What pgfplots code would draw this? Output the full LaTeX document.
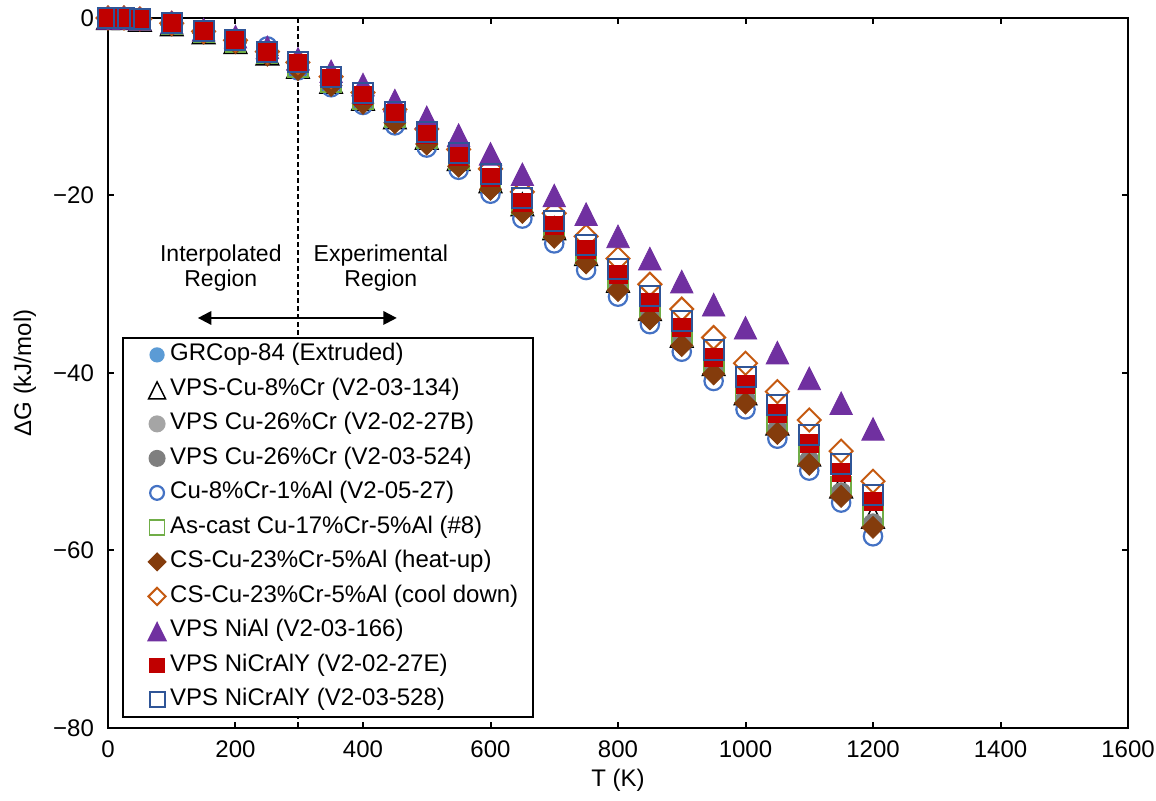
\documentclass[border=0pt]{standalone}
\usepackage{fontspec}
\setmainfont{Liberation Sans}
\usepackage{pgfplots}
\usepackage{pgfplotstable}
\pgfplotsset{compat=1.18}
\usetikzlibrary{arrows.meta}

\definecolor{cgrcop}{HTML}{5B9BD5}
\definecolor{cgraya}{HTML}{A5A5A5}
\definecolor{cgrayb}{HTML}{7F7F7F}
\definecolor{cbluec}{HTML}{4472C4}
\definecolor{cgreen}{HTML}{70AD47}
\definecolor{cbrown}{HTML}{843C0C}
\definecolor{corange}{HTML}{C55A11}
\definecolor{cpurple}{HTML}{7030A0}
\definecolor{cred}{HTML}{C00000}
\definecolor{cnavy}{HTML}{2F5597}

% Delta G (kJ/mol) vs T (K)
\pgfplotstableread{
T    GR    K     GA    GB    C     GN    BR    OR    P     R     B
0    0     0     0     0     0     0     0     0     0     0     0
25   0     0     0     0     0     0     0     0     0     0     0
50   -0.1  -0.2  -0.2  -0.2  -0.1  -0.2  -0.2  -0.1  -0.1  -0.1  -0.1
100  -0.6  -0.7  -0.7  -0.7  -0.6  -0.7  -0.8  -0.6  -0.5  -0.6  -0.6
150  -1.5  -1.6  -1.6  -1.6  -1.5  -1.6  -1.7  -1.5  -1.3  -1.5  -1.5
200  -2.5  -2.7  -2.7  -2.7  -2.6  -2.7  -2.8  -2.5  -2.1  -2.5  -2.5
250  -3.8  -4.0  -4.0  -4.0  -3.2  -4.0  -4.2  -3.8  -3.3  -3.8  -3.8
298  -5.1  -5.5  -5.6  -5.6  -5.9  -5.5  -5.8  -5.0  -4.6  -5.1  -5.0
350  -6.8  -7.2  -7.3  -7.3  -7.8  -7.2  -7.6  -6.6  -6.0  -6.8  -6.7
400  -8.7  -9.1  -9.3  -9.3  -9.8  -9.1  -9.6  -8.4  -7.5  -8.7  -8.5
450  -10.8 -11.2 -11.4 -11.4 -12.1 -11.2 -11.8 -10.3 -9.3  -10.8 -10.6
500  -13.1 -13.5 -13.8 -13.8 -14.6 -13.5 -14.2 -12.5 -11.2 -13.1 -12.8
550  -15.6 -15.9 -16.3 -16.3 -17.1 -15.9 -16.7 -14.8 -13.2 -15.6 -15.2
600  -18.0 -18.4 -18.9 -18.9 -19.8 -18.4 -19.3 -17.0 -15.3 -18.0 -17.6
650  -20.8 -21.0 -21.5 -21.5 -22.6 -21.0 -21.9 -19.6 -17.6 -20.8 -20.3
700  -23.4 -23.7 -24.3 -24.3 -25.4 -23.7 -24.7 -22.0 -20.0 -23.4 -22.9
750  -26.1 -26.6 -27.2 -27.2 -28.4 -26.6 -27.6 -24.6 -22.1 -26.1 -25.6
800  -28.9 -29.6 -30.3 -30.3 -31.4 -29.6 -30.7 -27.1 -24.6 -28.9 -28.3
850  -32.0 -32.8 -33.5 -33.5 -34.5 -32.8 -33.9 -30.0 -27.1 -32.0 -31.3
900  -34.9 -35.8 -36.5 -36.5 -37.6 -35.8 -36.9 -32.8 -29.7 -34.9 -34.1
950  -38.2 -39.0 -39.7 -39.7 -40.9 -39.0 -40.1 -36.0 -32.3 -38.2 -37.4
1000 -41.3 -42.3 -43.0 -43.0 -44.1 -42.3 -43.4 -38.9 -34.9 -41.3 -40.5
1050 -44.5 -45.7 -46.4 -46.4 -47.4 -45.7 -46.8 -42.1 -37.7 -44.5 -43.6
1100 -47.9 -49.2 -49.9 -49.9 -51.0 -49.2 -50.3 -45.3 -40.6 -47.9 -47.0
1150 -51.2 -52.8 -53.5 -53.5 -54.6 -52.8 -53.9 -48.8 -43.4 -51.2 -50.3
1200 -54.5 -56.2 -57.0 -57.0 -58.4 -56.2 -57.4 -52.2 -46.3 -54.5 -53.8
}\dgtable

\begin{document}
\begin{tikzpicture}
\begin{axis}[
  scale only axis, width=510pt, height=355pt,
  xmin=0, xmax=1600, ymin=-80, ymax=0,
  xtick={0,200,...,1600},
  ytick={-80,-60,-40,-20,0},
  yticklabels={−80,−60,−40,−20,0},
  tick align=inside, major tick length=3pt,
  axis line style={line width=1pt},
  every tick/.style={black,line width=1pt},
  tick label style={font=\fontsize{12}{14}\selectfont},
  xticklabel style={yshift=-3pt},
  yticklabel style={xshift=-3.5pt},
  scaled ticks=false,
  /pgf/number format/assume math mode=true,
  /pgf/number format/set thousands separator={},
  xlabel={T (K)}, ylabel={ΔG (kJ/mol)},
  every axis x label/.style={at={(axis description cs:0.5,-0.0732)},anchor=center,
    font=\fontsize{12}{14}\selectfont},
  every axis y label/.style={at={(axis description cs:-0.0814,0.5)},rotate=90,anchor=center,
    font=\fontsize{12}{14}\selectfont},
  clip=false,
  legend cell align=left,
  legend image code/.code={%
    \path (-9pt,-4pt) (4pt,4pt);
    \draw[#1,/tikz/every mark/.append style={scale=0.75}] plot coordinates {(0pt,0pt)};},
  legend style={at={(rel axis cs:0.0137,0.551)}, anchor=north west,
    draw=black, line width=1pt, inner xsep=7.5pt, inner ysep=3pt,
    row sep=6.15pt,
    nodes={inner sep=0pt, text height=8.6pt, text depth=2.5pt,
      font=\fontsize{12}{14}\selectfont},
    /tikz/every odd column/.append style={column sep=2pt}},
]
\coordinate (bl) at (rel axis cs:0,0);
\coordinate (tr) at (rel axis cs:1,1);

\draw[black, line width=0.75pt, dash pattern=on 2.5pt off 1.5pt]
  (axis cs:298,0) -- (axis cs:298,-80);

\addplot[only marks, mark=*, mark size=4.4pt, draw=cgrcop, fill=cgrcop]
  table[x=T,y=GR]{\dgtable};
\addlegendentry{GRCop-84 (Extruded)}
\addplot[only marks, mark=triangle, mark size=6.5pt, line width=0.75pt, draw=black,
  mark options={yshift=-1.9pt,yscale=1.16}]
  table[x=T,y=K]{\dgtable};
\addlegendentry{VPS-Cu-8\%Cr (V2-03-134)}
\addplot[only marks, mark=*, mark size=5pt, draw=cgraya, fill=cgraya]
  table[x=T,y=GA]{\dgtable};
\addlegendentry{VPS Cu-26\%Cr (V2-02-27B)}
\addplot[only marks, mark=*, mark size=5pt, draw=cgrayb, fill=cgrayb]
  table[x=T,y=GB]{\dgtable};
\addlegendentry{VPS Cu-26\%Cr (V2-03-524)}
\addplot[only marks, mark=o, mark size=4.6pt, line width=1.1pt, draw=cbluec]
  table[x=T,y=C]{\dgtable};
\addlegendentry{Cu-8\%Cr-1\%Al (V2-05-27)}
\addplot[only marks, mark=square, mark size=5pt, line width=0.9pt, draw=cgreen]
  table[x=T,y=GN]{\dgtable};
\addlegendentry{As-cast Cu-17\%Cr-5\%Al (\#8)}
\addplot[only marks, mark=diamond*, mark size=5.5pt, draw=cbrown, fill=cbrown,
  mark options={xscale=1.33}]
  table[x=T,y=BR]{\dgtable};
\addlegendentry{CS-Cu-23\%Cr-5\%Al (heat-up)}
\addplot[only marks, mark=diamond, mark size=5.75pt, line width=1pt, draw=corange,
  mark options={xscale=1.33}]
  table[x=T,y=OR]{\dgtable};
\addlegendentry{CS-Cu-23\%Cr-5\%Al (cool down)}
\addplot[only marks, mark=triangle*, mark size=6.5pt, draw=cpurple, fill=cpurple,
  mark options={yshift=-1.9pt,yscale=1.16}]
  table[x=T,y=P]{\dgtable};
\addlegendentry{VPS NiAl (V2-03-166)}
\addplot[only marks, mark=square*, mark size=4.5pt, draw=cred, fill=cred]
  table[x=T,y=R]{\dgtable};
\addlegendentry{VPS NiCrAlY (V2-02-27E)}
\addplot[only marks, mark=square, mark size=5pt, line width=1pt, draw=cnavy]
  table[x=T,y=B]{\dgtable};
\addlegendentry{VPS NiCrAlY (V2-03-528)}

\node[anchor=base, font=\fontsize{11.5}{13}\selectfont] at (axis cs:177,-27.46) {Interpolated};
\node[anchor=base, font=\fontsize{11.5}{13}\selectfont] at (axis cs:177,-30.28) {Region};
\node[anchor=base, font=\fontsize{11.5}{13}\selectfont] at (axis cs:428,-27.46) {Experimental};
\node[anchor=base, font=\fontsize{11.5}{13}\selectfont] at (axis cs:428,-30.28) {Region};
\draw[black, line width=1pt, {Triangle[length=6.7pt,width=6.7pt]}-{Triangle[length=6.7pt,width=6.7pt]}]
  (axis cs:141,-33.8) -- (axis cs:453,-33.8);
\end{axis}
\pgfresetboundingbox
\path ([shift={(-54pt,-36.5pt)}]bl) rectangle ([shift={(14pt,9pt)}]tr);
\end{tikzpicture}
\end{document}
